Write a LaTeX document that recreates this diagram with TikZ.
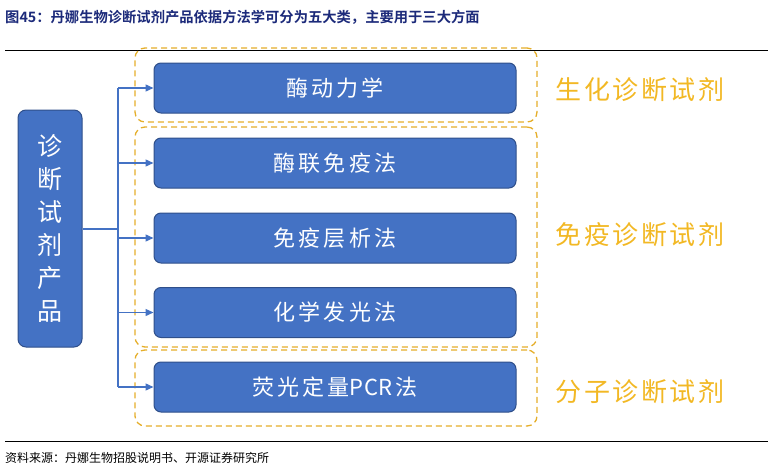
\documentclass[tikz,border=0pt]{standalone}
\usepackage{fontspec}
\setmainfont{Noto Sans CJK SC}
\newfontfamily\cjkb{Noto Sans CJK SC Bold}
\usetikzlibrary{arrows.meta}
\definecolor{boxblue}{HTML}{4472C4}
\definecolor{boxedge}{HTML}{2F4F8A}
\definecolor{gold}{HTML}{E5AE2A}
\definecolor{goldtext}{HTML}{F2B824}
\definecolor{titleblue}{HTML}{1C2A7A}
\tikzset{
  method/.style={draw=boxedge, line width=1pt, fill=boxblue, rounded corners=7pt,
    minimum width=362pt, minimum height=50pt, text=white, inner sep=0pt,
    font=\fontsize{22}{24}\selectfont\addfontfeature{LetterSpace=14}},
  group/.style={draw=gold, line width=1.3pt, dash pattern=on 6pt off 4pt, rounded corners=10pt,
    minimum width=402pt, inner sep=0pt},
  grouplabel/.style={text=goldtext, font=\fontsize{26}{30}\selectfont\addfontfeature{LetterSpace=10}, inner sep=0pt},
  conn/.style={draw=boxblue, line width=1.4pt},
  arr/.style={conn, -{Triangle[length=8pt,width=7pt]}},
}
\begin{document}
\begin{tikzpicture}[x=1pt,y=-1pt]
\useasboundingbox (0,0) rectangle (774,471);
% title
\node[anchor=west, inner sep=0pt, text=titleblue, font=\cjkb\fontsize{14.3}{16}\selectfont] (title) at (5,17) {图45：丹娜生物诊断试剂产品依据方法学可分为五大类，主要用于三大方面};
\draw[line width=1pt] (5,50) -- (768,50);
% groups
\node[group, minimum height=74pt] (gA) at (336,85) {};
\node[group, minimum height=220pt] (gB) at (336,237) {};
\node[group, minimum height=76pt] (gC) at (336,388) {};
% left box
\node[draw=boxedge, line width=1pt, fill=boxblue, rounded corners=8pt, minimum width=64pt, minimum height=237pt,
  text=white, align=center, inner sep=0pt, font=\fontsize{25}{33}\selectfont] (src) at (50,228.5)
  {诊\\断\\试\\剂\\产\\品};
% methods
\node[method] (b1) at (335,88) {酶动力学};
\node[method] (b2) at (335,163) {酶联免疫法};
\node[method] (b3) at (335,238) {免疫层析法};
\node[method] (b4) at (335,312.5) {化学发光法};
\node[method] (b5) at (335,387) {荧光定量{\addfontfeature{LetterSpace=3}PCR\hspace{3pt}}法};
% labels
\node[grouplabel] (lA) at (640,90) {生化诊断试剂};
\node[grouplabel] (lB) at (640,235) {免疫诊断试剂};
\node[grouplabel] (lC) at (640,392) {分子诊断试剂};
% connectors
\coordinate (bus) at (118,229);
\draw[conn] (src.east |- bus) -- (bus);
\draw[conn] (bus |- b1.west) -- (bus |- b5.west);
\foreach \b in {b1,b2,b3,b4,b5}{
  \draw[arr] (bus |- \b.west) -- (\b.west);
}
% footer
\draw[line width=1pt] (5,441) -- (768,441);
\node[anchor=west, inner sep=0pt, font=\fontsize{12}{14}\selectfont] (src2) at (5,458) {资料来源：丹娜生物招股说明书、开源证券研究所};
\end{tikzpicture}
\end{document}
